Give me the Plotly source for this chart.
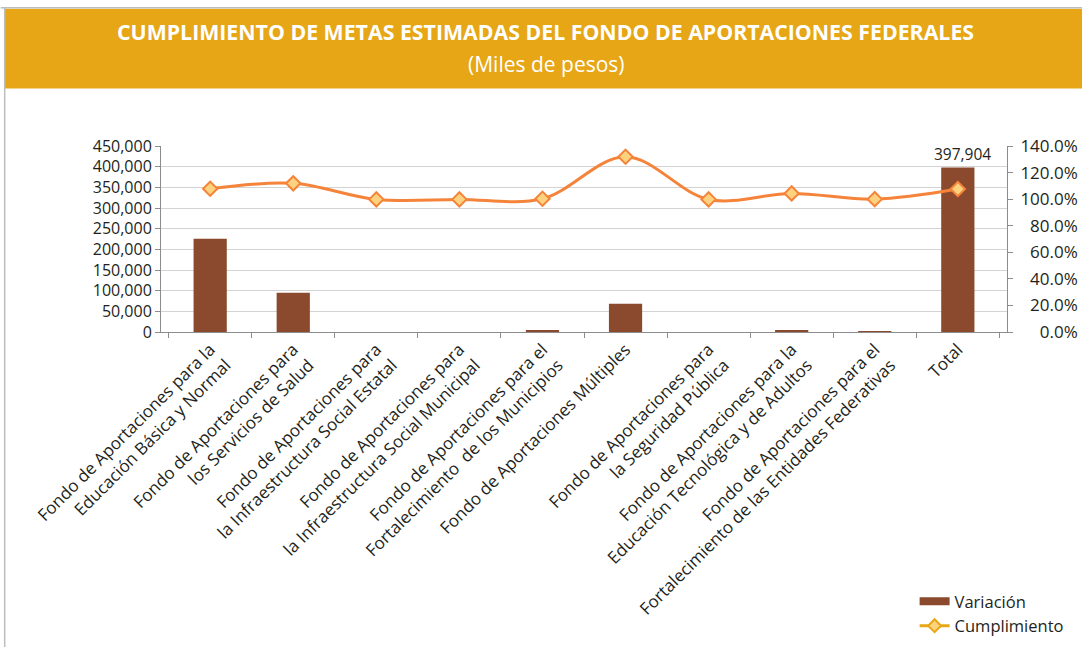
import plotly.graph_objects as go

categorias = [
    "Fondo de Aportaciones para la<br>Educación Básica y Normal",
    "Fondo de Aportaciones para<br>los Servicios de Salud",
    "Fondo de Aportaciones para<br>la Infraestructura Social Estatal",
    "Fondo de Aportaciones para<br>la Infraestructura Social Municipal",
    "Fondo de Aportaciones para el<br>Fortalecimiento  de los Municipios",
    "Fondo de Aportaciones Múltiples",
    "Fondo de Aportaciones para<br>la Seguridad Pública",
    "Fondo de Aportaciones para la<br>Educación Tecnológica y de Adultos",
    "Fondo de Aportaciones para el<br>Fortalecimiento de las Entidades Federativas",
    "Total",
]
variacion = [225800, 95200, 0, 0, 4000, 68400, 0, 3500, 1004, 397904]
cumplimiento = [1.078, 1.119, 0.998, 0.998, 1.003, 1.319, 0.998, 1.043, 1.000, 1.076]

pct_ticks = [0.0, 0.2, 0.4, 0.6, 0.8, 1.0, 1.2, 1.4]

titulo = "CUMPLIMIENTO DE METAS ESTIMADAS DEL FONDO DE APORTACIONES FEDERALES"
subtitulo = "(Miles de pesos)"

W, H = 1082, 647
L, R, T, B = 160.5, 1007.5, 145.5, 331.7
FONT = "Open Sans"
TXT = "#231F20"
BROWN = "#8B4A2E"
ORANGE = "#F5843A"
GOLD = "#E6A817"
AXIS = "#8C8C8C"

def px(x):
    return (x - L) / (R - L)

def py(y):
    return (B - y) / (B - T)

# right-aligned percentage labels (pad with figure spaces)
pct_text = [f"{v:.1%}".rjust(6, "\u2007") for v in pct_ticks]

fig = go.Figure()
fig.add_trace(go.Bar(
    x=categorias, y=variacion, name="Variación", showlegend=False,
    marker=dict(color=BROWN, line=dict(width=0)),
    yaxis="y",
))
fig.add_trace(go.Scatter(
    x=categorias, y=cumplimiento, name="Cumplimiento",
    mode="lines+markers", yaxis="y2", showlegend=False,
    line=dict(color=ORANGE, width=3, shape="spline", smoothing=1.0),
    marker=dict(symbol="diamond", size=11, color="#FCD27E",
                line=dict(color=ORANGE, width=2)),
    cliponaxis=False,
))
fig.add_trace(go.Scatter(
    x=[None], y=[None], name="Variación", mode="lines", yaxis="y",
    line=dict(color=BROWN, width=8),
))
fig.add_trace(go.Scatter(
    x=[None], y=[None], name="Cumplimiento", mode="lines+markers", yaxis="y2",
    line=dict(color=GOLD, width=3),
    marker=dict(symbol="diamond", size=10, color="#FCD27E",
                line=dict(color=GOLD, width=2)),
))

shapes = [
    dict(type="rect", xref="paper", yref="paper",
         x0=px(4), x1=px(1090), y0=py(88), y1=py(8),
         fillcolor="#E6A615", line=dict(width=0), layer="below"),
    dict(type="line", xref="paper", yref="paper",
         x0=px(0), x1=px(1090), y0=py(7), y1=py(7),
         line=dict(color="#BDBDBD", width=1.5)),
    dict(type="line", xref="paper", yref="paper",
         x0=px(4), x1=px(4), y0=py(7), y1=py(660),
         line=dict(color="#BDBDBD", width=1.5)),
]

annotations = [
    dict(xref="paper", yref="paper", x=px(545), y=py(31), text=f"<b>{titulo}</b>",
         showarrow=False, font=dict(family=FONT, size=21.3, color="white"),
         xanchor="center", yanchor="middle"),
    dict(xref="paper", yref="paper", x=px(546), y=py(63), text=subtitulo,
         showarrow=False, font=dict(family=FONT, size=21, color="white"),
         xanchor="center", yanchor="middle"),
    dict(x=categorias[-1], y=variacion[-1], xref="x", yref="y",
         text=f"{variacion[-1]:,}", showarrow=False, yanchor="bottom",
         xshift=5, yshift=1,
         font=dict(family=FONT, size=15.5, color=TXT)),
]

fig.update_layout(
    width=W, height=H,
    margin=dict(l=L, r=W - R, t=T, b=H - B, autoexpand=False),
    paper_bgcolor="white", plot_bgcolor="white",
    font=dict(family=FONT, size=16, color=TXT),
    bargap=0.6,
    showlegend=True,
    legend=dict(x=px(915), y=py(584), xanchor="left", yanchor="top",
                font=dict(family=FONT, size=16.5, color=TXT),
                bgcolor="rgba(0,0,0,0)", itemwidth=30, tracegroupgap=0),
    shapes=shapes,
    annotations=annotations,
    xaxis=dict(
        type="category", tickangle=-45, tickson="boundaries",
        ticks="outside", ticklen=5, tickcolor=AXIS,
        showline=True, linecolor=AXIS, linewidth=1,
        showgrid=False, automargin=False,
        tickfont=dict(family=FONT, size=17, color=TXT),
    ),
    yaxis=dict(
        range=[0, 450000], dtick=50000, tickformat=",",
        showgrid=True, gridcolor="#D3D3D3", gridwidth=1,
        showline=True, linecolor=AXIS, linewidth=1,
        ticks="outside", ticklen=5, tickcolor=AXIS,
        zeroline=False, automargin=False,
        tickfont=dict(family=FONT, size=16, color=TXT),
    ),
    yaxis2=dict(
        range=[0, 1.4], tickvals=pct_ticks, ticktext=pct_text,
        overlaying="y", side="right", showgrid=False,
        showline=True, linecolor=AXIS, linewidth=1,
        ticks="outside", ticklen=5, tickcolor=AXIS,
        ticklabelstandoff=4,
        zeroline=False, automargin=False,
        tickfont=dict(family=FONT, size=17, color=TXT),
    ),
)

fig.write_html(
    "out.html",
    config={"displayModeBar": False},
    post_script="document.body.style.margin='0';document.body.style.overflow='hidden';",
)
